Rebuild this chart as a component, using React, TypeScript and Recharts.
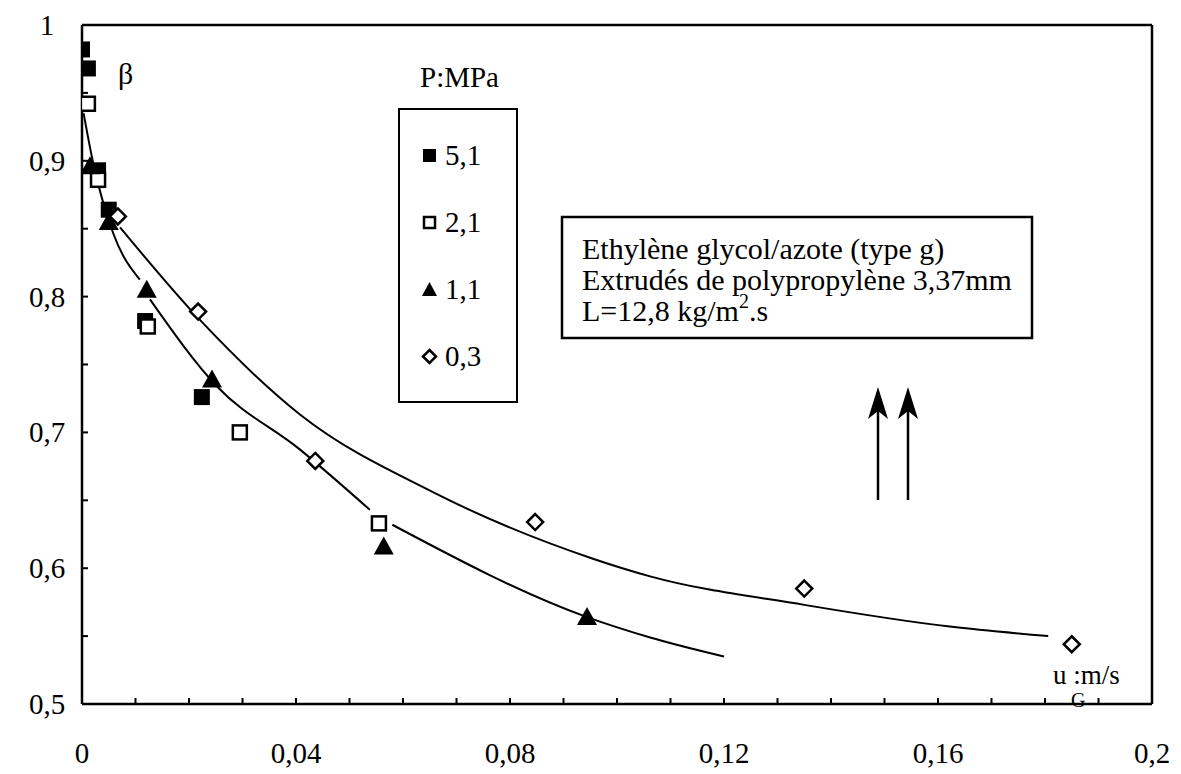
import React from 'react';
import { ComposedChart, Scatter, Line, XAxis, YAxis, Legend, ReferenceLine } from 'recharts';

// P = 5,1 MPa (filled squares)
const p51 = [
  { x: 0.0, y: 0.982 },
  { x: 0.0011, y: 0.968 },
  { x: 0.003, y: 0.893 },
  { x: 0.005, y: 0.864 },
  { x: 0.0118, y: 0.782 },
  { x: 0.0224, y: 0.726 },
];
// P = 2,1 MPa (open squares)
const p21 = [
  { x: 0.0011, y: 0.942 },
  { x: 0.003, y: 0.886 },
  { x: 0.0123, y: 0.778 },
  { x: 0.0295, y: 0.7 },
  { x: 0.0555, y: 0.633 },
];
// P = 1,1 MPa (filled triangles)
const p11 = [
  { x: 0.0015, y: 0.896 },
  { x: 0.005, y: 0.855 },
  { x: 0.0121, y: 0.805 },
  { x: 0.0243, y: 0.739 },
  { x: 0.0564, y: 0.616 },
  { x: 0.0944, y: 0.564 },
];
// P = 0,3 MPa (open diamonds)
const p03 = [
  { x: 0.0067, y: 0.859 },
  { x: 0.0217, y: 0.789 },
  { x: 0.0436, y: 0.679 },
  { x: 0.0847, y: 0.634 },
  { x: 0.135, y: 0.585 },
  { x: 0.185, y: 0.544 },
];

// fitted curves (null = gap in the drawn line)
const fitLow = [
  { x: 0.0003, y: 0.935 },
  { x: 0.002, y: 0.9 },
  { x: 0.0058, y: 0.847 },
  { x: 0.0108, y: 0.8125 },
  { x: 0.0118, y: null },
  { x: 0.0127, y: 0.798 },
  { x: 0.0252, y: 0.734 },
  { x: 0.0407, y: 0.6875 },
  { x: 0.0538, y: 0.643 },
  { x: 0.056, y: null },
  { x: 0.058, y: 0.632 },
  { x: 0.0944, y: 0.564 },
  { x: 0.1062, y: 0.549 },
  { x: 0.12, y: 0.535 },
];
const fitHigh = [
  { x: 0.0071, y: 0.851 },
  { x: 0.022, y: 0.783 },
  { x: 0.0408, y: 0.713 },
  { x: 0.0656, y: 0.656 },
  { x: 0.0955, y: 0.607 },
  { x: 0.1062, y: 0.594 },
  { x: 0.135, y: 0.573 },
  { x: 0.1622, y: 0.557 },
  { x: 0.1806, y: 0.55 },
];

const xTicks = [0, 0.01, 0.02, 0.03, 0.04, 0.05, 0.06, 0.07, 0.08, 0.09, 0.1, 0.11, 0.12, 0.13, 0.14, 0.15, 0.16, 0.17, 0.18, 0.19, 0.2];
const xLabels: Record<string, string> = { '0': '0', '0.04': '0,04', '0.08': '0,08', '0.12': '0,12', '0.16': '0,16', '0.2': '0,2' };
const yTicks = [0.5, 0.55, 0.6, 0.65, 0.7, 0.75, 0.8, 0.85, 0.9, 0.95, 1];
const yLabels: Record<string, string> = { '0.5': '0,5', '0.6': '0,6', '0.7': '0,7', '0.8': '0,8', '0.9': '0,9', '1': '1' };

const legendTitle = 'P:MPa';
const legendLabels = ['5,1', '2,1', '1,1', '0,3'];
const noteLines = ['Ethylène glycol/azote (type g)', 'Extrudés de polypropylène 3,37mm'];

const FONT = '"Times New Roman", "Liberation Serif", Times, serif';

const FilledSquare = (p: any) => <rect x={p.cx - 8} y={p.cy - 8} width={16} height={16} fill="#000" />;
const OpenSquare = (p: any) => (
  <rect x={p.cx - 7} y={p.cy - 7} width={14} height={14} fill="#fff" stroke="#000" strokeWidth={2.5} />
);
const Triangle = (p: any) => (
  <polygon points={`${p.cx},${p.cy - 10} ${p.cx + 10},${p.cy + 8} ${p.cx - 10},${p.cy + 8}`} fill="#000" />
);
const Diamond = (p: any) => (
  <polygon
    points={`${p.cx},${p.cy - 8} ${p.cx + 8},${p.cy} ${p.cx},${p.cy + 8} ${p.cx - 8},${p.cy}`}
    fill="#fff"
    stroke="#000"
    strokeWidth={2.5}
  />
);

const XTick = (props: any) => {
  const { x, payload } = props;
  const lab = xLabels[String(payload.value)];
  if (!lab) return <g />;
  return (
    <text x={x} y={753} textAnchor="middle" dominantBaseline="central" fontSize={29} fontFamily={FONT} fill="#000">
      {lab}
    </text>
  );
};
const YTick = (props: any) => {
  const { y, payload } = props;
  const lab = yLabels[String(payload.value)];
  if (!lab) return <g />;
  return (
    <text x={47} y={y} textAnchor="middle" dominantBaseline="central" fontSize={29} fontFamily={FONT} fill="#000">
      {lab}
    </text>
  );
};

const legendIcons = [
  <rect x={3} y={3} width={13} height={13} fill="#000" />,
  <rect x={4} y={4} width={11} height={11} fill="#fff" stroke="#000" strokeWidth={2.5} />,
  <polygon points="9.5,2 17,16 2,16" fill="#000" />,
  <polygon points="9.5,3 16,9.5 9.5,16 3,9.5" fill="#fff" stroke="#000" strokeWidth={2.5} />,
];

const LegendBox = () => (
  <div
    style={{
      width: 120,
      height: 295,
      border: '2.5px solid #000',
      boxSizing: 'border-box',
      background: '#fff',
      fontFamily: FONT,
      fontSize: 29,
      paddingTop: 12,
    }}
  >
    {legendLabels.map((l, i) => (
      <div key={l} style={{ display: 'flex', alignItems: 'center', height: 67, paddingLeft: 20 }}>
        <svg width={19} height={19} style={{ marginRight: 6 }}>
          {legendIcons[i]}
        </svg>
        <span>{l}</span>
      </div>
    ))}
  </div>
);

export default function App() {
  return (
    <div style={{ position: 'absolute', left: 0, top: 0, width: 1181, height: 774, background: '#fff' }}>
      <ComposedChart width={1181} height={774} margin={{ top: 25, right: 29, left: 22, bottom: 20 }}>
        <XAxis
          type="number"
          dataKey="x"
          domain={[0, 0.2]}
          ticks={xTicks}
          interval={0}
          height={50}
          axisLine={{ stroke: '#000', strokeWidth: 2.5 }}
          tickLine={{ stroke: '#000', strokeWidth: 2 }}
          tickSize={-6}
          tick={<XTick />}
          allowDataOverflow
        />
        <YAxis
          type="number"
          dataKey="y"
          domain={[0.5, 1]}
          ticks={yTicks}
          interval={0}
          width={60}
          axisLine={{ stroke: '#000', strokeWidth: 2.5 }}
          tickLine={{ stroke: '#000', strokeWidth: 2 }}
          tickSize={-6}
          tick={<YTick />}
          allowDataOverflow
        />
        <ReferenceLine y={1} stroke="#000" strokeWidth={2.5} />
        <ReferenceLine x={0.2} stroke="#000" strokeWidth={2.5} />
        <Line data={fitLow} dataKey="y" type="monotone" stroke="#000" strokeWidth={2} dot={false} isAnimationActive={false} legendType="none" />
        <Line data={fitHigh} dataKey="y" type="monotone" stroke="#000" strokeWidth={2} dot={false} isAnimationActive={false} legendType="none" />
        <Scatter name="5,1" data={p51} shape={FilledSquare} isAnimationActive={false} />
        <Scatter name="2,1" data={p21} shape={OpenSquare} isAnimationActive={false} />
        <Scatter name="1,1" data={p11} shape={Triangle} isAnimationActive={false} />
        <Scatter name="0,3" data={p03} shape={Diamond} isAnimationActive={false} />
        <Legend
          layout="vertical"
          align="center"
          verticalAlign="middle"
          content={<LegendBox />}
          wrapperStyle={{ position: 'absolute', left: 398, top: 108, width: 120, height: 295 }}
        />
        <text x={420} y={87} fontSize={29} fontFamily={FONT} fill="#000">{legendTitle}</text>
        <text x={118} y={84} fontSize={30} fontFamily={FONT} fill="#000">β</text>
        <rect x={562} y={217} width={470} height={121} fill="#fff" stroke="#000" strokeWidth={2.5} />
        <text x={582} y={259} fontSize={30} fontFamily={FONT} fill="#000">{noteLines[0]}</text>
        <text x={582} y={290} fontSize={30} fontFamily={FONT} fill="#000">{noteLines[1]}</text>
        <text x={582} y={321} fontSize={30} fontFamily={FONT} fill="#000">
          L=12,8 kg/m
          <tspan dy={-13} fontSize={20}>2</tspan>
          <tspan dy={13}>.s</tspan>
        </text>
        <line x1={878} y1={500} x2={878} y2={400} stroke="#000" strokeWidth={2.5} />
        <line x1={908} y1={500} x2={908} y2={400} stroke="#000" strokeWidth={2.5} />
        <polygon points="878,387 888,419 878,411 868,419" fill="#000" />
        <polygon points="908,387 918,419 908,411 898,419" fill="#000" />
        <text x={1053} y={684} fontSize={27} fontFamily={FONT} fill="#000">u :m/s</text>
        <text x={1071} y={707} fontSize={20} fontFamily={FONT} fill="#000">G</text>
      </ComposedChart>
    </div>
  );
}
